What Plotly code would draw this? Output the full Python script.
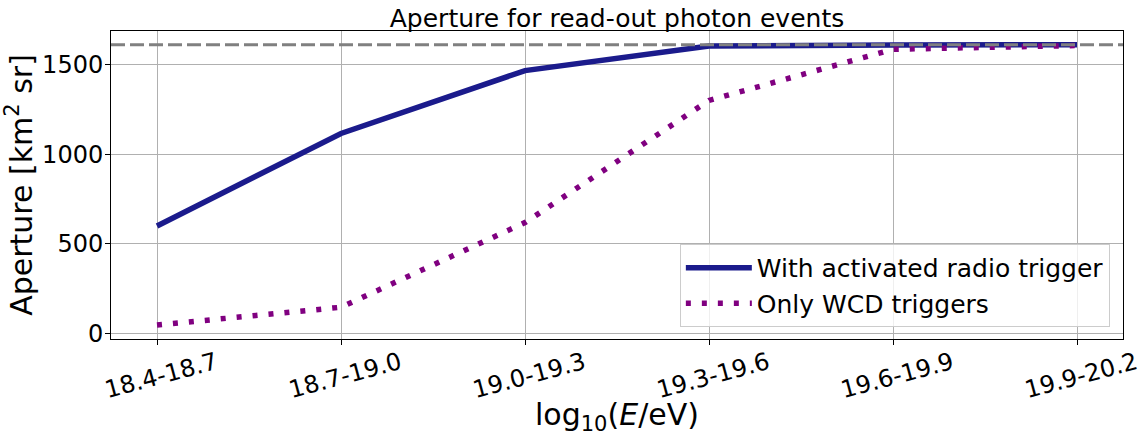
import plotly.graph_objects as go

categories = ["18.4-18.7", "18.7-19.0", "19.0-19.3", "19.3-19.6", "19.6-19.9", "19.9-20.2"]
radio_trigger = [600, 1116, 1466, 1603, 1609, 1610]
wcd_only = [48, 147, 619, 1300, 1585, 1606]
max_aperture = 1610

FONT = "DejaVu Sans"

fig = go.Figure()
fig.add_trace(go.Scatter(
    x=categories, y=radio_trigger, mode="lines",
    name="With activated radio trigger",
    line=dict(color="#1b1b8c", width=5.5),
))
fig.add_trace(go.Scatter(
    x=categories, y=wcd_only, mode="lines",
    name="Only WCD triggers",
    line=dict(color="#800080", width=5.5, dash="5px,11px"),
))
fig.add_hline(y=max_aperture, line=dict(color="#808080", width=3, dash="14px,5px"))

fig.update_layout(
    width=1146, height=436,
    margin=dict(l=111, r=23, t=31, b=97),
    paper_bgcolor="white", plot_bgcolor="white",
    font=dict(family=FONT, color="black", size=24),
    title=dict(text="Aperture for read-out photon events", x=0.5, xref="paper",
               y=1 - 18 / 436, yref="container", xanchor="center", yanchor="middle",
               font=dict(size=25, family=FONT)),
    legend=dict(x=0.987, y=0.039, xanchor="right", yanchor="bottom",
                bgcolor="rgba(255,255,255,0.8)", bordercolor="#cccccc", borderwidth=1,
                font=dict(size=25, family=FONT), itemwidth=66),
    showlegend=True,
)
fig.update_xaxes(
    type="category", range=[-0.25, 5.25], automargin=False,
    showline=True, linecolor="black", linewidth=1, mirror=True,
    ticks="outside", ticklen=5, tickcolor="black", tickangle=-15,
    ticklabelshift=59, ticklabelstandoff=-5,
    showgrid=True, gridcolor="#b0b0b0", gridwidth=1,
    tickfont=dict(size=24, family=FONT),
    title=dict(text="log<sub>10</sub>(<i>E</i>/eV)", font=dict(size=30, family=FONT), standoff=6),
)
fig.update_yaxes(
    range=[-30, 1687], tickvals=[0, 500, 1000, 1500], automargin=False,
    showline=True, linecolor="black", linewidth=1, mirror=True,
    ticks="outside", ticklen=5, tickcolor="black", ticklabelstandoff=-3,
    showgrid=True, gridcolor="#b0b0b0", gridwidth=1, zeroline=False,
    tickfont=dict(size=24, family=FONT),
    title=dict(text="Aperture [km<sup>2</sup> sr]", font=dict(size=30, family=FONT), standoff=5),
)

fig.write_html("out.html")
